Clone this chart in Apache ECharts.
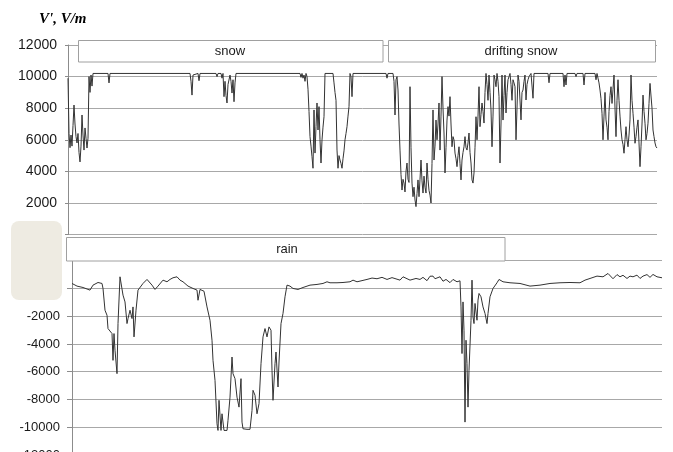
<!DOCTYPE html>
<html>
<head>
<meta charset="utf-8">
<script src="https://cdn.jsdelivr.net/npm/echarts@6/dist/echarts.min.js"></script>
<style>
html,body{margin:0;padding:0;background:#fff;}
#c{width:673px;height:452px;}
</style>
</head>
<body>
<div id="c"></div>
<script>
// Upper panel (snow / drifting snow): [time index, V' in V/m]
const snowPoints = [
[0,9900],[1,6400],[2,5500],[3,6300],[4,5600],[5,6900],[6,8200],[7,7000],[8,6200],[9,5800],[10,6400],[11,5200],[12,4600],[13,5600],[14,7570],[15,6300],[16,5350],[17,6750],[18,6100],[19,5480],[20,6100],[21,10000],[22,9000],[23,10100],[24,9400],[25,10200],
[40,10200],[41,9600],[42,10200],
[122,10200],[123,9700],[124,8830],[125,10100],[126,10200],[130,10200],[131,9740],[132,10200],
[148,10200],[149,10000],[150,10200],[153,10200],[154,9900],[155,10200],[156,8730],[157,9700],[158,8800],[159,8330],[160,9500],[161,9600],[162,10100],[163,9700],[164,8960],[165,9800],[166,8410],[167,9600],[168,10200],
[232,10200],[233,9950],[234,10200],[235,9900],[236,10100],[237,9700],[238,10200],[239,10000],[240,9200],[241,7800],[242,6200],[243,5600],[244,4930],[245,4200],[246,7890],[247,5160],[248,6830],[249,8330],[250,6620],[251,8100],[252,6000],[253,4530],[254,5990],[255,6800],[256,7460],[257,10200],
[265,10200],[266,9600],[267,9000],[268,8500],[269,5350],[270,4200],[271,5000],[272,4720],[273,4500],[274,4200],[275,4800],[276,5300],[277,6000],[278,6400],[279,6830],[280,7500],[281,8100],[282,10200],[283,10000],[284,8730],[285,10200],
[318,10200],[319,9900],[320,10200],[325,10200],[326,9700],[327,7570],[328,9800],[329,10000],[330,9150],[331,7000],[332,5350],[333,3800],[334,2820],[335,3500],[336,3260],[337,2700],[338,4000],[339,4530],[340,3500],[341,3300],[342,9360],[343,5500],[344,3260],[345,2400],[346,3000],[347,2190],[348,1770],[349,2600],[350,3460],[351,2400],[352,3500],[353,4720],[354,3400],[355,2630],[356,3700],[357,3000],[358,2630],[359,4530],[360,3500],[361,2800],[362,2500],[363,2000],[364,4500],[365,7890],[366,4720],[367,5600],[368,7250],[369,6000],[370,7000],[371,8330],[372,5350],[373,7500],[374,10000],[375,8000],[376,6430],[377,3900],[378,5500],[379,7250],[380,8100],[381,7500],[382,8730],[383,7000],[384,5560],[385,6200],[386,5990],[387,5160],[388,4800],[389,4300],[390,5000],[391,5560],[392,4500],[393,3460],[394,4720],[395,5200],[396,5560],[397,6200],[398,5500],[399,5350],[400,5800],[401,6430],[402,5200],[403,4530],[404,3460],[405,3260],[406,3900],[407,5500],[408,7460],[409,6000],[410,7500],[411,9360],[412,6830],[413,7600],[414,8330],[415,7800],[416,7060],[417,9000],[418,10200],[419,9500],[420,8500],[421,10100],[422,9000],[423,7890],[424,5560],[425,7500],[426,10100],[427,9800],[428,9360],[429,10200],[430,9700],[431,8730],[432,4530],[433,7000],[434,10100],[435,7250],[436,8800],[437,10100],[438,7700],[439,9000],[440,9800],[441,10000],[442,10200],[443,9500],[444,8500],[445,9800],[446,9600],[447,9360],[448,6000],[449,8000],[450,10100],[451,9700],[452,9800],[453,7260],[454,9000],[455,9150],[456,9700],[457,10100],[458,8520],[459,9500],[460,9800],[461,10000],[462,10100],[463,10200],[464,10100],[465,8630],[466,10200],
[480,10200],[481,9610],[482,10200],[495,10200],[496,9360],[497,10100],[498,9470],[499,10200],[507,10200],[508,10000],[509,10200],[515,10200],[516,9470],[517,10200],[527,10200],[528,9800],[529,10200],[530,9900],[531,9600],[532,9150],[533,8600],[534,7680],[535,6000],[536,7500],[537,9000],[538,7260],[539,6800],[540,6000],[541,7800],[542,8800],[543,9360],[544,8300],[545,9200],[546,10100],[547,8000],[548,6200],[549,8500],[550,9800],[551,8500],[552,7500],[553,6620],[554,6000],[555,5700],[556,5150],[557,6000],[558,6830],[559,6000],[560,5560],[561,6300],[562,7260],[563,10100],[564,8500],[565,7680],[566,6800],[567,5780],[568,6200],[569,6800],[570,7260],[571,5800],[572,4300],[573,5560],[574,7000],[575,8830],[576,7800],[577,7050],[578,6000],[579,6400],[580,7050],[581,8300],[582,9570],[583,9600],[584,8000],[585,6620],[586,6200],[587,5800],[588,5560],[589,5480]
];

// Lower panel (rain): [time index, V' in V/m]
const rainPoints = [
[0,360],[5,170],[11,70],[18,-120],[21,240],[26,430],[30,360],[31,0],[33,-1570],[35,-1930],[36,-2890],[38,-2800],[40,-3250],[41,-5180],[42,-3250],[43,-4450],[45,-6140],[46,-2530],[48,840],[49,840],[51,-480],[53,-970],[55,-2530],[56,-2170],[58,-1570],[60,-2170],[61,-1330],[62,-3490],[64,-1570],[66,-120],[71,360],[75,650],[80,240],[83,-70],[86,170],[91,600],[95,480],[98,650],[101,770],[105,840],[108,600],[111,480],[116,170],[121,0],[125,-120],[126,-850],[128,-70],[130,0],[132,-200],[135,-1330],[138,-2290],[140,-3730],[141,-5180],[143,-6620],[145,-9750],[146,-10230],[147,-8060],[149,-10230],[150,-9030],[152,-10230],[155,-10230],[156,-9500],[158,-7830],[160,-4940],[161,-6140],[163,-6500],[165,-7830],[167,-8550],[169,-6500],[170,-9630],[171,-10110],[175,-10150],[178,-10150],[180,-8790],[181,-7340],[183,-7700],[185,-9030],[187,-8300],[189,-5420],[191,-3490],[193,-2890],[195,-3490],[197,-2770],[199,-3010],[200,-5900],[201,-8060],[203,-5420],[204,-4580],[206,-7100],[207,-5300],[209,-2530],[211,-1800],[213,-600],[215,240],[218,170],[221,0],[226,-70],[231,70],[238,240],[245,290],[251,360],[255,480],[258,410],[265,410],[271,430],[278,480],[281,600],[285,480],[288,530],[295,650],[300,750],[305,700],[310,800],[315,650],[320,780],[328,600],[331,840],[338,600],[344,720],[348,650],[351,800],[355,560],[358,880],[361,890],[363,700],[365,600],[368,840],[371,520],[374,650],[378,420],[381,650],[385,480],[388,550],[389,-1330],[390,-4690],[391,-970],[392,-3010],[393,-9630],[394,-3730],[395,-5420],[396,-8550],[397,-5900],[399,-2290],[400,600],[401,-2050],[402,-2530],[403,-1080],[405,-2290],[406,-840],[407,-360],[409,-600],[411,-1330],[413,-1800],[415,-2530],[416,-1800],[418,-600],[421,0],[425,410],[427,650],[431,480],[438,410],[448,360],[458,170],[468,240],[478,360],[488,410],[498,430],[508,410],[513,600],[518,720],[525,890],[531,840],[536,1080],[541,700],[545,1000],[548,840],[551,950],[555,720],[558,890],[561,840],[565,960],[568,720],[571,890],[575,1000],[578,800],[581,1010],[585,840],[590,770]
];

const snowLabels = ['snow', 'drifting snow'];
const rainLabel = 'rain';
const yTitle = "V', V/m";

const chart = echarts.init(document.getElementById('c'), null, {renderer: 'canvas'});
const axisGray = '#8c8c8c';
const gridGray = '#a8a8a8';
const labelFont = 'Liberation Sans';

const option = {
  animation: false,
  backgroundColor: '#fff',
  grid: [
    {left: 68, top: 45, right: 16, height: 189.6, containLabel: false, outerBoundsMode: 'none'},
    {left: 72, top: 260.7, right: 11, bottom: -3, containLabel: false, outerBoundsMode: 'none'}
  ],
  xAxis: [
    {gridIndex: 0, type: 'value', min: 0, max: 589, show: false},
    {gridIndex: 1, type: 'value', min: 0, max: 590, show: false}
  ],
  yAxis: [
    {gridIndex: 0, type: 'value', min: 0, max: 12000, interval: 2000,
     axisLine: {show: true, lineStyle: {color: axisGray, width: 1}},
     axisTick: {show: true, length: 3, lineStyle: {color: axisGray}},
     axisLabel: {fontSize: 14, color: '#1a1a1a', margin: 11, fontFamily: labelFont, formatter: v => String(v)},
     splitLine: {show: true, lineStyle: {color: gridGray, width: 1}}},
    {gridIndex: 1, type: 'value', min: -12000, max: 2000, interval: 2000,
     axisLine: {show: true, lineStyle: {color: axisGray, width: 1}},
     axisTick: {show: true, length: 5, lineStyle: {color: axisGray}},
     axisLabel: {fontSize: 13, color: '#1a1a1a', margin: 12, fontFamily: labelFont, formatter: v => String(v)},
     splitLine: {show: true, lineStyle: {color: gridGray, width: 1}}}
  ],
  series: [
    {type: 'line', xAxisIndex: 0, yAxisIndex: 0, data: snowPoints, symbol: 'none',
     lineStyle: {color: '#333', width: 1}, z: 3},
    {type: 'line', xAxisIndex: 1, yAxisIndex: 1, data: rainPoints, symbol: 'none',
     lineStyle: {color: '#333', width: 1}, z: 3}
  ],
  graphic: [
    {type: 'text', left: 39, top: 12, z: 100,
     style: {text: yTitle, font: 'italic bold 15px "Liberation Serif"', fill: '#000'}},
    {type: 'rect', z: 100, shape: {x: 78.5, y: 40.5, width: 304.5, height: 21.5},
     style: {fill: '#fff', stroke: '#a0a0a0', lineWidth: 1}},
    {type: 'text', z: 101, x: 230, y: 51.5,
     style: {text: snowLabels[0], font: '13px "Liberation Sans"', fill: '#1a1a1a', align: 'center', verticalAlign: 'middle'}},
    {type: 'rect', z: 100, shape: {x: 388.5, y: 40.5, width: 267, height: 21.5},
     style: {fill: '#fff', stroke: '#a0a0a0', lineWidth: 1}},
    {type: 'text', z: 101, x: 521, y: 51.5,
     style: {text: snowLabels[1], font: '13px "Liberation Sans"', fill: '#1a1a1a', align: 'center', verticalAlign: 'middle'}},
    {type: 'rect', z: 100, shape: {x: 66.5, y: 237.5, width: 438.5, height: 23.5},
     style: {fill: '#fff', stroke: '#a0a0a0', lineWidth: 1}},
    {type: 'text', z: 101, x: 287, y: 249.5,
     style: {text: rainLabel, font: '13px "Liberation Sans"', fill: '#1a1a1a', align: 'center', verticalAlign: 'middle'}},
    {type: 'rect', z: 100, shape: {x: 11, y: 221, width: 51, height: 79, r: 8},
     style: {fill: '#eeebe2'}}
  ]
};
chart.setOption(option);
</script>
</body>
</html>
